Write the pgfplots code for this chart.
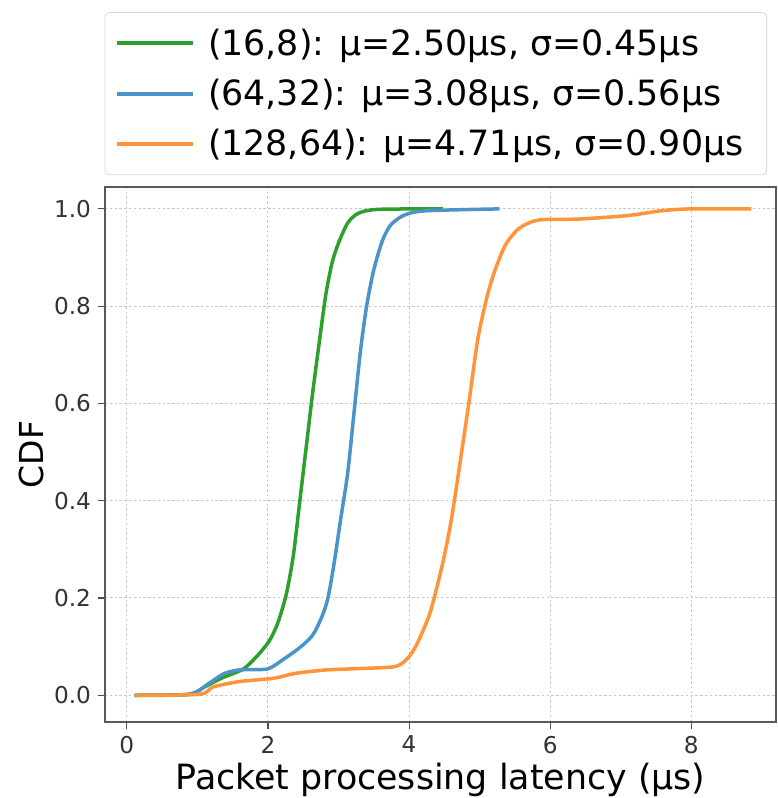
\documentclass[border=0pt]{standalone}
\usepackage{pgfplots}
\pgfplotsset{compat=1.18}
\usepackage{fontspec}
\setmainfont{DejaVu Sans}

\definecolor{cgreen}{HTML}{2CA02C}
\definecolor{cblue}{HTML}{4C93CA}
\definecolor{corange}{HTML}{FF9438}

\begin{document}
\begin{tikzpicture}
\begin{axis}[
    name=main,
    scale only axis,
    width=335.5pt, height=267.5pt,
    xmin=-0.31, xmax=9.2,
    ymin=-0.055, ymax=1.045,
    xtick={0,2,...,8},
    ytick={0,0.2,...,1.0},
    yticklabel style={/pgf/number format/.cd, fixed, fixed zerofill, precision=1},
    /pgf/number format/assume math mode=true,
    tick label style={font=\fontsize{11.6}{13}\selectfont, text=black!80},
    tick align=outside,
    tick pos=left,
    major tick length=3.5pt,
    tick style={black!70, line width=0.6pt},
    axis line style={black!65, line width=0.8pt},
    grid=major,
    major grid style={gray!45, line width=0.5pt, dash pattern=on 1.2pt off 1.2pt},
    xlabel={Packet processing latency (μs)},
    ylabel={CDF},
    xlabel style={font=\fontsize{17.4}{20}\selectfont, yshift=2pt},
    ylabel style={font=\fontsize{16.5}{19}\selectfont, yshift=-2pt},
    legend style={
        at={(0.493,1.022)}, anchor=south,
        font=\fontsize{17.4}{20}\selectfont,
        draw=black!15, rounded corners=2pt,
        inner xsep=5pt, inner ysep=6pt,
        row sep=6.5pt,
        cells={anchor=west},
        nodes={inner xsep=6.5pt},
    },
    legend image code/.code={\draw[#1, line width=2pt] (0pt,0pt) -- (38pt,0pt);},
    every axis plot/.append style={line width=1.75pt, line join=round, smooth, tension=0.45},
]
\addplot[cgreen] coordinates {
    (0.11,0.000) (0.88,0.002) (1.10,0.017) (1.34,0.035) (1.65,0.054)
    (1.86,0.083) (2.02,0.112) (2.14,0.149) (2.26,0.208) (2.36,0.288)
    (2.45,0.398) (2.54,0.508) (2.63,0.618) (2.73,0.729) (2.82,0.824)
    (2.91,0.890) (3.00,0.930) (3.13,0.971) (3.28,0.991) (3.56,0.999)
    (4.48,1.000)
};
\addlegendentry{(16,8): μ=2.50μs, σ=0.45μs}
\addplot[cblue] coordinates {
    (0.11,0.000) (0.88,0.002) (1.16,0.024) (1.37,0.044) (1.59,0.052)
    (1.99,0.054) (2.20,0.072) (2.45,0.098) (2.63,0.123) (2.76,0.160)
    (2.85,0.200) (2.94,0.274) (3.03,0.362) (3.13,0.457) (3.22,0.582)
    (3.31,0.707) (3.40,0.802) (3.50,0.875) (3.62,0.934) (3.74,0.967)
    (3.93,0.987) (4.23,0.996) (5.28,1.000)
};
\addlegendentry{(64,32): μ=3.08μs, σ=0.56μs}
\addplot[corange] coordinates {
    (0.11,0.000) (1.03,0.002) (1.22,0.017) (1.59,0.028) (2.08,0.035)
    (2.39,0.045) (2.82,0.052) (3.31,0.055) (3.80,0.059) (3.98,0.076)
    (4.11,0.105) (4.30,0.171) (4.48,0.274) (4.60,0.362) (4.73,0.486)
    (4.85,0.604) (4.97,0.729) (5.10,0.817) (5.22,0.875) (5.37,0.927)
    (5.56,0.960) (5.83,0.977) (6.39,0.979) (7.00,0.985) (7.25,0.989)
    (7.56,0.996) (7.99,1.000) (8.85,1.000)
};
\addlegendentry{(128,64): μ=4.71μs, σ=0.90μs}
\end{axis}
\pgfresetboundingbox
\path (main.south west) ++(-52.5pt,-38pt) coordinate (bbA);
\path (main.north east) ++(0.5pt,93.5pt) coordinate (bbB);
\path (bbA) rectangle (bbB);
\end{tikzpicture}
\end{document}
